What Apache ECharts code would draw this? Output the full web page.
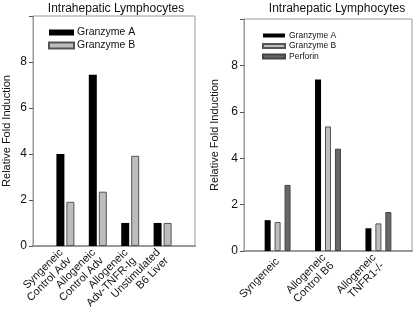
<!DOCTYPE html>
<html>
<head>
<meta charset="utf-8">
<script src="https://cdn.jsdelivr.net/npm/echarts@6/dist/echarts.min.js"></script>
<style>
  html, body { margin: 0; padding: 0; background: #fff; }
  #main { width: 414px; height: 311px; }
</style>
</head>
<body>
<div id="main"></div>
<script>
// left panel
const leftCats = ["Syngeneic\nControl Adv", "Allogeneic\nControl Adv", "Allogeneic\nAdv-TNFR-Ig", "Unstimulated\nB6 Liver"];
const leftPos = [1, 2, 3, 4];
const leftGzA = [4.0, 7.45, 1.0, 1.0];
const leftGzB = [1.92, 2.36, 3.92, 1.0];

// right panel
const rightCats = ["Syngeneic", "Allogeneic\nControl B6", "Allogeneic\nTNFR1-/-"];
const rightPos = [2, 5, 8];
const rightGzA = [1.33, 7.39, 0.98];
const rightGzB = [1.25, 5.37, 1.19];
const rightPerf = [2.85, 4.41, 1.68];

const yTicks = [0, 2, 4, 6, 8];

const font = "Liberation Sans, Arial, sans-serif";
const boxColor = "#999";

const pair = (xs, ys) => xs.map((x, i) => [x, ys[i]]);
const labelFor = (xs, names) => (v) => {
  const i = xs.indexOf(v);
  return i >= 0 ? names[i] : "";
};

const makeX = (idx, min, max, xs, names) => ({
  gridIndex: idx,
  type: "value",
  min: min,
  max: max,
  splitLine: { show: false },
  axisLine: { show: true, lineStyle: { color: boxColor, width: 2 } },
  axisTick: { show: false },
  axisLabel: {
    customValues: xs,
    formatter: labelFor(xs, names),
    rotate: 45,
    margin: 9,
    fontSize: 11,
    lineHeight: 11.5,
    color: "#111",
    fontFamily: font,
    hideOverlap: false,
    showMinLabel: true,
    showMaxLabel: true,
  },
});

const makeY = (idx, gap) => ({
  gridIndex: idx,
  type: "value",
  min: 0,
  max: 10,
  interval: 2,
  name: "Relative Fold Induction",
  nameLocation: "middle",
  nameGap: gap,
  nameTextStyle: { fontSize: 11, color: "#111", fontFamily: font },
  splitLine: { show: false },
  axisLine: { show: true, lineStyle: { color: boxColor } },
  axisTick: { show: true, inside: false, length: 4, lineStyle: { color: "#555" } },
  axisLabel: {
    margin: 6,
    fontSize: 12,
    color: "#111",
    fontFamily: font,
    formatter: (v) => (yTicks.indexOf(v) >= 0 ? String(v) : ""),
  },
});

const gzAStyle = { color: "#000" };
const gzBStyle = { color: "#bdbdbd", borderColor: "#555", borderWidth: 1 };
const perfStyle = { color: "#686868", borderColor: "#444", borderWidth: 1 };

const option = {
  animation: false,
  backgroundColor: "#fff",
  title: [
    {
      text: "Intrahepatic Lymphocytes",
      left: 111,
      top: -2,
      textAlign: "center",
      textStyle: { fontSize: 12, fontWeight: "normal", color: "#111", fontFamily: font },
    },
    {
      text: "Intrahepatic Lymphocytes",
      left: 332,
      top: -2,
      textAlign: "center",
      textStyle: { fontSize: 12, fontWeight: "normal", color: "#111", fontFamily: font },
    },
  ],
  legend: [
    {
      data: ["Granzyme A", "Granzyme B"].map((n) => ({ name: n, icon: "rect" })),
      orient: "vertical",
      left: 43,
      top: 22,
      itemWidth: 25,
      itemHeight: 6,
      itemGap: 2,
      textStyle: { fontSize: 10.5, color: "#111", fontFamily: font, padding: [0, 0, 0, -2] },
      selectedMode: false,
    },
    {
      data: ["Granzyme A ", "Granzyme B ", "Perforin"].map((n) => ({ name: n, icon: "rect" })),
      orient: "vertical",
      left: 257,
      top: 26,
      itemWidth: 22,
      itemHeight: 4,
      itemGap: 1.5,
      formatter: (n) => n.trim(),
      textStyle: { fontSize: 8.5, color: "#111", fontFamily: font, padding: [0, 0, 0, -1] },
      selectedMode: false,
    },
  ],
  grid: [
    { left: 27, top: 16, width: 168, height: 231, show: true, borderColor: boxColor, borderWidth: 1, containLabel: false },
    { left: 244, top: 19, width: 168, height: 232, show: true, borderColor: boxColor, borderWidth: 1, containLabel: false },
  ],
  xAxis: [
    makeX(0, 0, 5, leftPos, leftCats),
    makeX(1, 0, 10, rightPos, rightCats),
  ],
  yAxis: [makeY(0, 21), makeY(1, 24)],
  series: [
    {
      name: "Granzyme A",
      type: "bar",
      xAxisIndex: 0,
      yAxisIndex: 0,
      barWidth: 8,
      barGap: "25%",
      itemStyle: gzAStyle,
      data: pair(leftPos, leftGzA),
    },
    {
      name: "Granzyme B",
      type: "bar",
      xAxisIndex: 0,
      yAxisIndex: 0,
      barWidth: 8,
      barGap: "25%",
      itemStyle: gzBStyle,
      data: pair(leftPos, leftGzB),
    },
    {
      name: "Granzyme A ",
      type: "bar",
      xAxisIndex: 1,
      yAxisIndex: 1,
      barWidth: 6,
      barGap: "66%",
      itemStyle: gzAStyle,
      data: pair(rightPos, rightGzA),
    },
    {
      name: "Granzyme B ",
      type: "bar",
      xAxisIndex: 1,
      yAxisIndex: 1,
      barWidth: 6,
      barGap: "66%",
      itemStyle: gzBStyle,
      data: pair(rightPos, rightGzB),
    },
    {
      name: "Perforin",
      type: "bar",
      xAxisIndex: 1,
      yAxisIndex: 1,
      barWidth: 6,
      barGap: "66%",
      itemStyle: perfStyle,
      data: pair(rightPos, rightPerf),
    },
  ],
};

const chart = echarts.init(document.getElementById("main"), null, { renderer: "canvas" });
chart.setOption(option);
</script>
</body>
</html>
